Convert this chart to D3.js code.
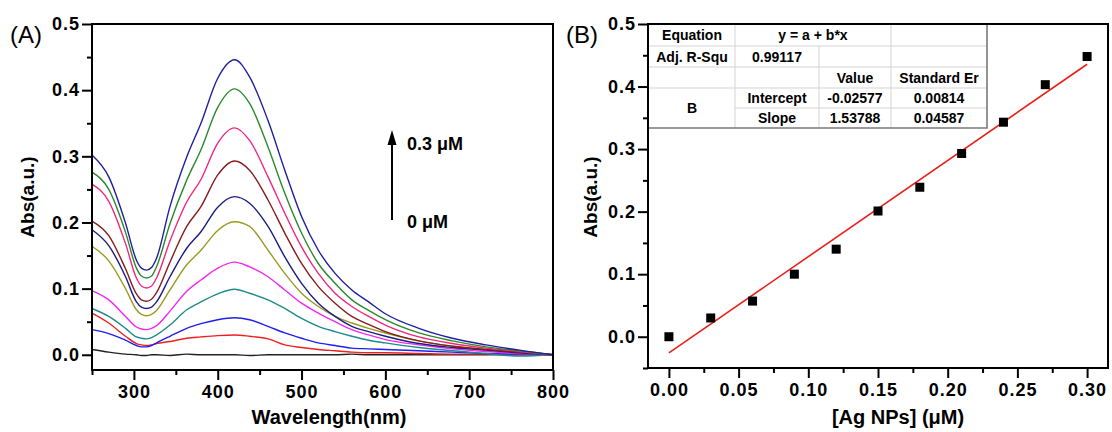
<!DOCTYPE html>
<html>
<head>
<meta charset="utf-8">
<script src="https://cdn.jsdelivr.net/npm/d3@7"></script>
<style>
  body { margin: 0; background: #fff; }
  svg text { font-family: Arial, "Liberation Sans", sans-serif; }
</style>
</head>
<body>
<script>
// ---- panel A: absorption spectra, one array per Ag NP concentration ----
let wavelengths = [250, 270, 290, 303, 309, 315, 321, 327, 343, 363, 380, 400, 420, 438, 460, 480, 500, 520, 540, 560, 580, 600, 640, 680, 720, 760, 800];

let spec030 = [0.302, 0.269, 0.199, 0.143, 0.131, 0.128, 0.132, 0.146, 0.224, 0.299, 0.350, 0.418, 0.446, 0.420, 0.354, 0.279, 0.209, 0.158, 0.123, 0.098, 0.080, 0.062, 0.040, 0.025, 0.015, 0.007, 0.000];
let spec027 = [0.276, 0.250, 0.185, 0.131, 0.119, 0.116, 0.119, 0.133, 0.198, 0.264, 0.310, 0.374, 0.402, 0.380, 0.314, 0.244, 0.184, 0.138, 0.108, 0.083, 0.067, 0.053, 0.033, 0.021, 0.012, 0.006, 0.000];
let spec024 = [0.258, 0.232, 0.168, 0.116, 0.104, 0.101, 0.104, 0.116, 0.172, 0.231, 0.265, 0.320, 0.343, 0.324, 0.269, 0.214, 0.163, 0.123, 0.093, 0.073, 0.058, 0.045, 0.027, 0.017, 0.010, 0.005, 0.000];
let spec021 = [0.202, 0.180, 0.130, 0.092, 0.083, 0.081, 0.084, 0.094, 0.140, 0.194, 0.224, 0.272, 0.293, 0.279, 0.234, 0.184, 0.138, 0.103, 0.078, 0.058, 0.046, 0.035, 0.021, 0.013, 0.008, 0.004, 0.000];
let spec018 = [0.189, 0.165, 0.118, 0.080, 0.072, 0.070, 0.072, 0.080, 0.118, 0.161, 0.186, 0.223, 0.239, 0.229, 0.194, 0.148, 0.108, 0.078, 0.058, 0.043, 0.035, 0.028, 0.017, 0.011, 0.007, 0.003, 0.000];
let spec015 = [0.164, 0.142, 0.100, 0.068, 0.061, 0.059, 0.061, 0.067, 0.098, 0.136, 0.158, 0.188, 0.201, 0.194, 0.158, 0.123, 0.093, 0.073, 0.058, 0.048, 0.040, 0.033, 0.021, 0.013, 0.008, 0.004, 0.000];
let spec012 = [0.097, 0.083, 0.058, 0.042, 0.039, 0.038, 0.040, 0.044, 0.066, 0.096, 0.113, 0.131, 0.140, 0.133, 0.118, 0.098, 0.078, 0.063, 0.050, 0.038, 0.030, 0.023, 0.015, 0.009, 0.005, 0.002, 0.000];
let spec009 = [0.070, 0.058, 0.040, 0.027, 0.025, 0.024, 0.026, 0.030, 0.045, 0.068, 0.080, 0.092, 0.099, 0.093, 0.083, 0.070, 0.055, 0.043, 0.035, 0.028, 0.022, 0.018, 0.011, 0.006, 0.002, -0.002, 0.000];
let spec006 = [0.038, 0.032, 0.022, 0.014, 0.012, 0.012, 0.014, 0.018, 0.028, 0.040, 0.047, 0.053, 0.056, 0.053, 0.043, 0.033, 0.025, 0.018, 0.014, 0.010, 0.009, 0.008, 0.006, 0.004, 0.002, 0.001, 0.000];
let spec003 = [0.063, 0.048, 0.028, 0.017, 0.015, 0.014, 0.015, 0.017, 0.020, 0.025, 0.027, 0.029, 0.030, 0.028, 0.024, 0.015, 0.011, 0.008, 0.006, 0.004, 0.003, 0.003, 0.002, 0.001, 0.001, 0.000, 0.000];
let spec000 = [0.008, 0.004, 0.001, 0.000, -0.001, -0.001, 0.000, 0.000, -0.001, 0.001, 0.000, 0.000, 0.000, -0.001, 0.000, 0.000, 0.000, 0.000, 0.000, 0.001, 0.000, 0.000, 0.000, 0.000, 0.000, 0.000, 0.000];

let spectra = [spec000, spec003, spec006, spec009, spec012, spec015, spec018, spec021, spec024, spec027, spec030];
let specColors = ["#222222", "#ee2020", "#2020ee", "#1f8a8a", "#f028f0", "#9a9a22", "#1c1c84", "#861c1c", "#f0287e", "#2a8a2a", "#1f1f9c"];

let xTicksA = [300, 400, 500, 600, 700, 800];
let xMinorA = [250, 350, 450, 550, 650, 750];
let yTicksA = [0.0, 0.1, 0.2, 0.3, 0.4, 0.5];
let yMinorA = [0.05, 0.15, 0.25, 0.35, 0.45];

// ---- panel B: peak absorbance vs concentration ----
let agConc = [0, 0.03, 0.06, 0.09, 0.12, 0.15, 0.18, 0.21, 0.24, 0.27, 0.30];
let peakAbs = [0.000, 0.030, 0.057, 0.100, 0.140, 0.201, 0.239, 0.293, 0.343, 0.403, 0.448];
let fitIntercept = -0.02577;
let fitSlope = 1.53788;

let xTicksB = [0, 0.05, 0.10, 0.15, 0.20, 0.25, 0.30];
let xMinorB = [0.025, 0.075, 0.125, 0.175, 0.225, 0.275];
let yTicksB = [0.0, 0.1, 0.2, 0.3, 0.4, 0.5];
let yMinorB = [-0.05, 0.05, 0.15, 0.25, 0.35, 0.45];

// fit table text (row by row)
let tableRow1 = ["Equation", "y = a + b*x"];
let tableRow2 = ["Adj. R-Squ", "0.99117"];
let tableRow3 = ["Value", "Standard Er"];
let tableRow4 = ["Intercept", "-0.02577", "0.00814"];
let tableRow5 = ["Slope", "1.53788", "0.04587"];
let tableGroup = "B";

let width = 1112, height = 432;

let svg = d3.select("body").append("svg")
    .attr("width", width)
    .attr("height", height);

// draws a framed panel with outward major + minor ticks
function drawFrame(x, y, xt, xm, yt, ym, xfmt, yfmt) {
    let [x0, x1] = x.range();
    let [y0, y1] = y.range();

    let gx = svg.append("g").attr("transform", `translate(0,${y0})`)
        .call(d3.axisBottom(x).tickValues(xt).tickFormat(xfmt).tickSize(10).tickPadding(5));
    svg.append("g").attr("transform", `translate(0,${y0})`)
        .call(d3.axisBottom(x).tickValues(xm).tickFormat("").tickSize(5));
    let gy = svg.append("g").attr("transform", `translate(${x0},0)`)
        .call(d3.axisLeft(y).tickValues(yt).tickFormat(yfmt).tickSize(10).tickPadding(2));
    svg.append("g").attr("transform", `translate(${x0},0)`)
        .call(d3.axisLeft(y).tickValues(ym).tickFormat("").tickSize(5));

    svg.selectAll(".domain").remove();
    svg.selectAll(".tick line").attr("stroke", "#000").attr("stroke-width", 2);
    [gx, gy].forEach(g => g.selectAll("text")
        .attr("fill", "#000")
        .style("font-family", "Arial, 'Liberation Sans', sans-serif")
        .style("font-size", "18px")
        .style("font-weight", "bold")
        .style("letter-spacing", "1px"));

    svg.append("rect")
        .attr("x", x0).attr("y", y1)
        .attr("width", x1 - x0).attr("height", y0 - y1)
        .attr("fill", "none").attr("stroke", "#000").attr("stroke-width", 2);
}

// ---------- panel A ----------
let xA = d3.scaleLinear().domain([250, 800]).range([92, 553]);
let yA = d3.scaleLinear().domain([-0.023, 0.5]).range([370, 24]);

let lineA = d3.line()
    .x((d, i) => xA(wavelengths[i]))
    .y(d => yA(d))
    .curve(d3.curveMonotoneX);

svg.append("g").selectAll("path")
    .data(spectra)
    .enter()
        .append("path")
        .attr("d", d => lineA(d))
        .attr("fill", "none")
        .attr("stroke", (d, i) => specColors[i])
        .attr("stroke-width", 1.4);

drawFrame(xA, yA, xTicksA, xMinorA, yTicksA, yMinorA, d3.format("d"), d3.format(".1f"));

svg.append("text").attr("x", 329).attr("y", 424)
    .attr("text-anchor", "middle")
    .style("font-size", "20px").style("font-weight", "bold")
    .text("Wavelength(nm)");
svg.append("text").attr("transform", "translate(34,197) rotate(-90)")
    .attr("text-anchor", "middle")
    .style("font-size", "19px").style("font-weight", "bold")
    .text("Abs(a.u.)");
svg.append("text").attr("x", 10).attr("y", 43)
    .style("font-size", "24px")
    .text("(A)");

// concentration arrow
svg.append("line")
    .attr("x1", 392).attr("x2", 392).attr("y1", 220).attr("y2", 142)
    .attr("stroke", "#000").attr("stroke-width", 2);
svg.append("path")
    .attr("d", "M392,130 L396.5,145 L387.5,145 Z")
    .attr("fill", "#000");
svg.append("text").attr("x", 407).attr("y", 150)
    .style("font-size", "18px").style("font-weight", "bold")
    .text("0.3 \u03bcM");
svg.append("text").attr("x", 407).attr("y", 228)
    .style("font-size", "18px").style("font-weight", "bold")
    .text("0 \u03bcM");

// ---------- panel B ----------
let xB = d3.scaleLinear().domain([-0.015, 0.315]).range([648, 1108]);
let yB = d3.scaleLinear().domain([-0.05, 0.5]).range([368, 24]);

svg.append("line")
    .attr("x1", xB(0)).attr("y1", yB(fitIntercept))
    .attr("x2", xB(0.30)).attr("y2", yB(fitIntercept + fitSlope * 0.30))
    .attr("stroke", "#e8201c").attr("stroke-width", 1.6);

let sq = 9;
svg.append("g").selectAll("rect")
    .data(agConc)
    .enter()
        .append("rect")
        .attr("x", d => xB(d) - sq / 2)
        .attr("y", (d, i) => yB(peakAbs[i]) - sq / 2)
        .attr("width", sq).attr("height", sq)
        .attr("fill", "#000");

// fit result table (drawn over the plot area, top-left)
let colX = [649, 735, 819, 891, 987];
let rowY = [24, 46, 67, 88, 108, 128];
let tbl = svg.append("g");
tbl.append("rect")
    .attr("x", colX[0]).attr("y", rowY[0])
    .attr("width", colX[4] - colX[0]).attr("height", rowY[5] - rowY[0])
    .attr("fill", "#fff");
let grid = [
    [colX[0], rowY[1], colX[4], rowY[1]],
    [colX[0], rowY[2], colX[4], rowY[2]],
    [colX[0], rowY[3], colX[4], rowY[3]],
    [colX[1], rowY[4], colX[4], rowY[4]],
    [colX[1], rowY[0], colX[1], rowY[5]],
    [colX[2], rowY[1], colX[2], rowY[5]],
    [colX[3], rowY[0], colX[3], rowY[5]]
];
tbl.selectAll("line.grid")
    .data(grid)
    .enter()
        .append("line")
        .attr("x1", d => d[0]).attr("y1", d => d[1])
        .attr("x2", d => d[2]).attr("y2", d => d[3])
        .attr("stroke", "#d4d4d4").attr("stroke-width", 1);
tbl.append("path")
    .attr("d", `M${colX[4]},${rowY[0]} V${rowY[5]} H${colX[0]}`)
    .attr("fill", "none").attr("stroke", "#7a7a7a").attr("stroke-width", 1.6);

let cx = i => (colX[i] + colX[i + 1]) / 2;
let cy = i => (rowY[i] + rowY[i + 1]) / 2 + 5;
let cells = [
    [cx(0), cy(0), tableRow1[0]],
    [(colX[1] + colX[3]) / 2, cy(0), tableRow1[1]],
    [cx(0), cy(1), tableRow2[0]],
    [cx(1), cy(1), tableRow2[1]],
    [cx(2), cy(2), tableRow3[0]],
    [cx(3), cy(2), tableRow3[1]],
    [cx(0), (rowY[3] + rowY[5]) / 2 + 5, tableGroup],
    [cx(1), cy(3), tableRow4[0]],
    [cx(2), cy(3), tableRow4[1]],
    [cx(3), cy(3), tableRow4[2]],
    [cx(1), cy(4), tableRow5[0]],
    [cx(2), cy(4), tableRow5[1]],
    [cx(3), cy(4), tableRow5[2]]
];
tbl.selectAll("text")
    .data(cells)
    .enter()
        .append("text")
        .attr("x", d => d[0]).attr("y", d => d[1])
        .attr("text-anchor", "middle")
        .style("font-size", "14px").style("font-weight", "bold")
        .text(d => d[2]);

drawFrame(xB, yB, xTicksB, xMinorB, yTicksB, yMinorB, d3.format(".2f"), d3.format(".1f"));

svg.append("text").attr("x", 898).attr("y", 424)
    .attr("text-anchor", "middle")
    .style("font-size", "20px").style("font-weight", "bold")
    .text("[Ag NPs] (\u03bcM)");
svg.append("text").attr("transform", "translate(597,197) rotate(-90)")
    .attr("text-anchor", "middle")
    .style("font-size", "19px").style("font-weight", "bold")
    .text("Abs(a.u.)");
svg.append("text").attr("x", 566).attr("y", 43)
    .style("font-size", "24px")
    .text("(B)");
</script>
</body>
</html>
